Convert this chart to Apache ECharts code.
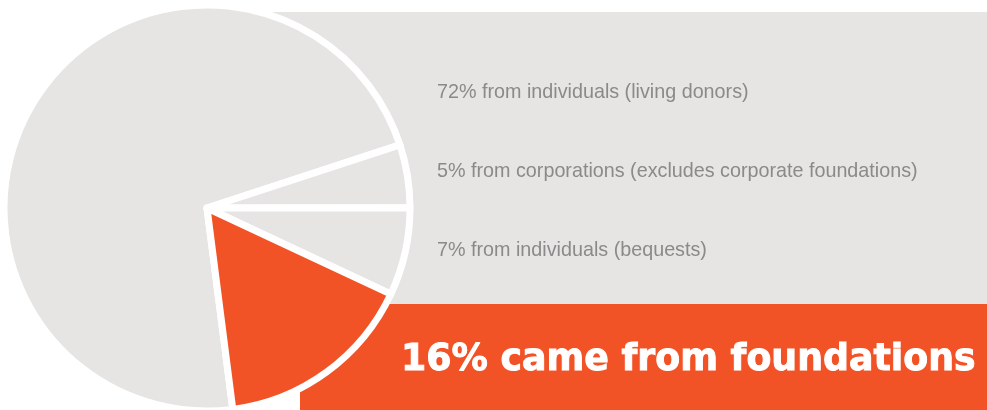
<!DOCTYPE html>
<html>
<head>
<meta charset="utf-8">
<script src="https://cdn.jsdelivr.net/npm/echarts@6/dist/echarts.min.js"></script>
<style>html,body{margin:0;padding:0;background:#fff}#c{width:987px;height:410px}</style>
</head>
<body>
<div id="c"></div>
<script>
// Data
var categories = ["from individuals (living donors)", "from corporations (excludes corporate foundations)", "from individuals (bequests)", "came from foundations"];
var values = [72, 5, 7, 16];
var sliceColors = ["#e6e5e3", "#e6e5e3", "#e6e5e3", "#f15326"];

var chart = echarts.init(document.getElementById('c'), null, {renderer: 'canvas'});

var smallLabelTop = [82, 161, 240];
var graphics = [
  {type: 'rect', z: -10, silent: true, shape: {x: 207, y: 12, width: 780, height: 292}, style: {fill: '#e6e5e3'}},
  {type: 'rect', z: -9, silent: true, shape: {x: 300, y: 304, width: 687, height: 106}, style: {fill: '#f15326'}}
];
for (var i = 0; i < 3; i++) {
  graphics.push({
    type: 'text', z: 100, silent: true, x: 437, y: smallLabelTop[i], scaleX: 0.94,
    style: {x: 0, y: 0, text: values[i] + '% ' + categories[i], fill: '#8a8a8a', verticalAlign: 'top', font: '21px "Liberation Sans", sans-serif'}
  });
}
graphics.push({
  type: 'text', z: 100, silent: true, x: 401, y: 341, scaleX: 0.955,
  style: {x: 0, y: 0, text: values[3] + '% ' + categories[3], fill: '#ffffff', stroke: '#ffffff', lineWidth: 1, verticalAlign: 'top', font: 'bold 38px "DejaVu Sans", sans-serif'}
});

chart.setOption({
  animation: false,
  backgroundColor: '#ffffff',
  graphic: graphics,
  series: [{
    type: 'pie',
    center: [207, 208],
    radius: 203,
    startAngle: 277.3,
    clockwise: true,
    silent: true,
    label: {show: false},
    labelLine: {show: false},
    emphasis: {disabled: true},
    itemStyle: {borderColor: '#ffffff', borderWidth: 7},
    data: values.map(function (v, i) {
      return {value: v, name: categories[i], itemStyle: {color: sliceColors[i]}};
    })
  }]
});
</script>
</body>
</html>
